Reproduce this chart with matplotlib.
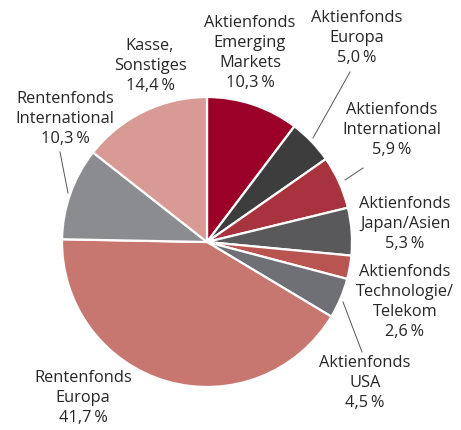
import matplotlib.pyplot as plt

# shares in percent, clockwise from 12 o'clock
categories = [
    "Aktienfonds\nEmerging\nMarkets",
    "Aktienfonds\nEuropa",
    "Aktienfonds\nInternational",
    "Aktienfonds\nJapan/Asien",
    "Aktienfonds\nTechnologie/\nTelekom",
    "Aktienfonds\nUSA",
    "Rentenfonds\nEuropa",
    "Rentenfonds\nInternational",
    "Kasse,\nSonstiges",
]
shares = [10.3, 5.0, 5.9, 5.3, 2.6, 4.5, 41.7, 10.3, 14.4]
colors = ["#9b0028", "#3d3d3d", "#a8323d", "#59595b", "#b85550",
          "#6f7075", "#c87670", "#8b8c90", "#d89a94"]

# label anchor (centre of text block, pixels from top-left) and optional leader line
label_pos = [(250, 53), (357, 38), (392, 130), (405, 224), (405, 302),
             (365, 383), (83, 398), (65, 119), (150, 66)]
leaders = {1: ((313, 138), (350, 72)),
           2: ((345, 180), (363, 168)),
           5: ((343, 302), (362, 352)),
           7: ((68, 193), (60, 152))}

W, H = 461, 430
fig = plt.figure(figsize=(W / 100, H / 100), dpi=100)
ax = fig.add_axes([0, 0, 1, 1])

ax.pie(shares, colors=colors, startangle=90, counterclock=False,
       center=(207, H - 242), radius=145,
       wedgeprops=dict(edgecolor="white", linewidth=1.6))

ax.set_xlim(0, W)
ax.set_ylim(0, H)
ax.set_aspect("equal")
ax.axis("off")

for i, (lab, val) in enumerate(zip(categories, shares)):
    txt = lab + "\n" + f"{val:.1f}".replace(".", ",") + "\u2009%"
    x, y = label_pos[i]
    ax.text(x, H - y, txt, ha="center", va="center", fontsize=11.8,
            family=["Open Sans", "DejaVu Sans"], color="#262626",
            linespacing=1.33)

for i, (p0, p1) in leaders.items():
    ax.plot([p0[0], p1[0]], [H - p0[1], H - p1[1]], color="#555555", lw=0.7)

fig.savefig("out.png", dpi=100)
